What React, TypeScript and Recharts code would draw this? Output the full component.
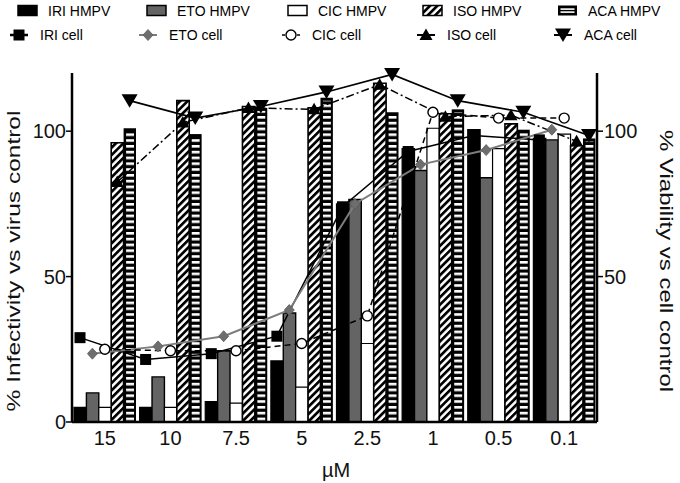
import React from 'react';
import { ComposedChart, Bar, Line, XAxis, YAxis, Legend } from 'recharts';

const doses = ['15', '10', '7.5', '5', '2.5', '1', '0.5', '0.1'];

const iriHmpv = [5, 5, 7, 21, 75, 94, 100.5, 97.5];
const etoHmpv = [10, 15.5, 24.5, 37.5, 76.5, 86.5, 84, 97];
const cicHmpv = [5, 5, 6.5, 12, 27, 101, 94, 99];
const isoHmpv = [96, 110.5, 108.5, 108, 116.5, 106, 102.5, 95];
const acaHmpv = [101, 99, 108, 111.5, 106.5, 107.5, 100.5, 97.5];

const iriCell = [29, 21.5, 23.5, 29.5, 74, 93, 98.5, 97];
const etoCell = [23.5, 26, 29.5, 38.5, 75, 88.5, 93.5, 100.5];
const cicCell = [25, 24.5, 24.5, 27, 36.5, 106.5, 104.5, 104.5];
const isoCell = [82.5, 103, 108, 107.5, 116, 105, 105.5, 96.5];
const acaCell = [110.5, 104.5, 108.5, 113.5, 119.5, 110.5, 106.5, 98.5];

const leftTicks = [0, 50, 100];
const rightTicks = [50, 100];

const barLabels = ['IRI HMPV', 'ETO HMPV', 'CIC HMPV', 'ISO HMPV', 'ACA HMPV'];
const cellLabels = ['IRI cell', 'ETO cell', 'CIC cell', 'ISO cell', 'ACA cell'];

const W = 680;
const H = 483;
const BAR = 12.4;
const BAND = 525 / doses.length;
const SLOT = BAR / BAND;

const table = doses.map((d, i) => ({
  dose: d,
  iri: iriHmpv[i],
  eto: etoHmpv[i],
  cic: cicHmpv[i],
  iso: isoHmpv[i],
  aca: acaHmpv[i],
}));

const lineData = (vals: number[], slot: number) =>
  vals.map((v, i) => ({ pos: i + 0.5 + (slot - 2) * SLOT, v }));

const FONT = '"Liberation Sans", Arial, Helvetica, sans-serif';
const GRAY_BAR = '#646464';
const GRAY_LINE = '#7d7d7d';

const Square = (p: any) =>
  p.cx == null ? <g key={p.index} /> : (
    <rect key={p.index} x={p.cx - 5.5} y={p.cy - 5.5} width={11} height={11} fill="#000" />
  );
const Diamond = (p: any) =>
  p.cx == null ? <g key={p.index} /> : (
    <polygon
      key={p.index}
      points={`${p.cx},${p.cy - 5.5} ${p.cx + 5},${p.cy} ${p.cx},${p.cy + 5.5} ${p.cx - 5},${p.cy}`}
      fill="#6e6e6e"
      stroke="#5a5a5a"
      strokeWidth={0.8}
    />
  );
const OpenCircle = (p: any) =>
  p.cx == null ? <g key={p.index} /> : (
    <circle key={p.index} cx={p.cx} cy={p.cy} r={5} fill="#fff" stroke="#000" strokeWidth={1.4} />
  );
const TriUp = (p: any) =>
  p.cx == null ? <g key={p.index} /> : (
    <polygon
      key={p.index}
      points={`${p.cx},${p.cy - 6.5} ${p.cx + 6.5},${p.cy + 5} ${p.cx - 6.5},${p.cy + 5}`}
      fill="#000"
    />
  );
const TriDown = (p: any) =>
  p.cx == null ? <g key={p.index} /> : (
    <polygon
      key={p.index}
      points={`${p.cx - 8},${p.cy - 6.5} ${p.cx + 8},${p.cy - 6.5} ${p.cx},${p.cy + 7}`}
      fill="#000"
    />
  );

const AcaShape = (p: any) => {
  const { x, y, width, height } = p;
  if (!height || height <= 0) return <g />;
  return (
    <g>
      <rect x={x} y={y} width={width} height={height} fill="#000" />
      <rect x={x + 2.5} y={y + 3} width={width - 4.5} height={height - 3} fill="url(#acaStripes)" />
    </g>
  );
};

const legendText = (x: number, y: number, s: string) => (
  <text x={x} y={y} fontSize={14} fontFamily={FONT} fill="#000">
    {s}
  </text>
);

const barTextX = [48, 177, 318, 453, 588];
const cellTextX = [40, 169, 312, 447, 584];

const LegendBox = () => {
  const r1 = 10.5;
  const r2 = 35;
  const icons = [
    (x: number) => <rect x={x} y={r1 - 5} width={19} height={10} fill="#000" stroke="#000" strokeWidth={1.5} />,
    (x: number) => <rect x={x} y={r1 - 5} width={19} height={10} fill={GRAY_BAR} stroke="#000" strokeWidth={1.5} />,
    (x: number) => <rect x={x} y={r1 - 5} width={19} height={10} fill="#fff" stroke="#000" strokeWidth={1.5} />,
    (x: number) => <rect x={x} y={r1 - 5} width={19} height={10} fill="url(#isoHatchL)" stroke="#000" strokeWidth={1.5} />,
    (x: number) => (
      <g>
        <rect x={x} y={r1 - 5} width={19} height={10} fill="#000" />
        <rect x={x + 2.5} y={r1 - 2.2} width={14} height={1.6} fill="#fff" />
        <rect x={x + 2.5} y={r1 + 0.8} width={14} height={1.6} fill="#fff" />
      </g>
    ),
  ];
  const marks = [
    (c: number) => (
      <g>
        <line x1={c - 9} x2={c + 9} y1={r2} y2={r2} stroke="#000" strokeWidth={2.5} />
        {Square({ cx: c, cy: r2, index: 0 })}
      </g>
    ),
    (c: number) => (
      <g>
        <line x1={c - 9} x2={c + 9} y1={r2} y2={r2} stroke={GRAY_LINE} strokeWidth={2} />
        {Diamond({ cx: c, cy: r2, index: 0 })}
      </g>
    ),
    (c: number) => (
      <g>
        <line x1={c - 9} x2={c + 9} y1={r2} y2={r2} stroke="#000" strokeWidth={1.5} strokeDasharray="3 2" />
        {OpenCircle({ cx: c, cy: r2, index: 0 })}
      </g>
    ),
    (c: number) => (
      <g>
        <line x1={c - 9} x2={c + 9} y1={r2} y2={r2} stroke="#000" strokeWidth={2} />
        {TriUp({ cx: c, cy: r2, index: 0 })}
      </g>
    ),
    (c: number) => (
      <g>
        <line x1={c - 9} x2={c + 9} y1={r2} y2={r2} stroke="#000" strokeWidth={2} />
        {TriDown({ cx: c, cy: r2, index: 0 })}
      </g>
    ),
  ];
  return (
    <svg width={W} height={73} style={{ display: 'block' }}>
      <defs>
        <pattern id="isoHatchL" patternUnits="userSpaceOnUse" width={5.2} height={5.2} patternTransform="rotate(45)">
          <rect width={5.2} height={5.2} fill="#fff" />
          <rect width={2.7} height={5.2} fill="#000" />
        </pattern>
      </defs>
      {barLabels.map((s, i) => (
        <g key={s}>
          {icons[i](barTextX[i] - 30)}
          {legendText(barTextX[i], r1 + 5, s)}
        </g>
      ))}
      {cellLabels.map((s, i) => (
        <g key={s}>
          {marks[i](cellTextX[i] - 21)}
          {legendText(cellTextX[i], r2 + 5, s)}
        </g>
      ))}
    </svg>
  );
};

const leftTitle = () => (
  <text
    x={0}
    y={0}
    transform="translate(20,261) rotate(-90) scale(1,0.78)"
    textAnchor="middle"
    fontSize={24.5}
    fontFamily={FONT}
    fill="#111"
  >
    % Infectivity vs virus control
  </text>
);

const rightTitle = () => (
  <text
    x={0}
    y={0}
    transform="translate(660,261) rotate(90) scale(1,0.78)"
    textAnchor="middle"
    fontSize={24}
    fontFamily={FONT}
    fill="#111"
  >
    % Viability vs cell control
  </text>
);

const xTitle = () => (
  <text x={336} y={477} textAnchor="middle" fontSize={20} fontFamily={FONT} fill="#111">
    µM
  </text>
);

const tickStyle = { fontSize: 20, fontFamily: FONT, fill: '#111' };

export default function App() {
  return (
    <div style={{ position: 'absolute', left: 0, top: 0, width: W, height: H, background: '#fff' }}>
      <ComposedChart
        width={W}
        height={H}
        data={table}
        margin={{ top: 0, right: 0, bottom: 0, left: 0 }}
        barGap={0}
        barSize={BAR}
      >
        <defs>
          <pattern id="isoHatch" patternUnits="userSpaceOnUse" width={5.2} height={5.2} patternTransform="rotate(45)">
            <rect width={5.2} height={5.2} fill="#fff" />
            <rect width={2.7} height={5.2} fill="#000" />
          </pattern>
          <pattern id="acaStripes" patternUnits="userSpaceOnUse" width={20} height={5.8}>
            <rect width={20} height={2.6} fill="#fff" />
          </pattern>
        </defs>
        <Legend
          verticalAlign="top"
          content={LegendBox}
          wrapperStyle={{ position: 'absolute', top: 0, left: 0, width: W, height: 73 }}
        />
        <XAxis
          xAxisId="cat"
          dataKey="dose"
          height={61}
          axisLine={{ stroke: '#000', strokeWidth: 2.5 }}
          tickLine={false}
          tickSize={6}
          tickMargin={3}
          tick={tickStyle}
          interval={0}
          label={xTitle}
        />
        <XAxis xAxisId="pos" type="number" dataKey="pos" domain={[0, doses.length]} hide allowDataOverflow />
        <YAxis
          yAxisId="left"
          width={72}
          domain={[0, 120]}
          ticks={leftTicks}
          interval={0}
          axisLine={{ stroke: '#000', strokeWidth: 2.5 }}
          tickLine={{ stroke: '#000', strokeWidth: 1.5 }}
          tickSize={6}
          tickMargin={0}
          tick={tickStyle}
          label={leftTitle}
        />
        <YAxis
          yAxisId="right"
          orientation="right"
          width={83}
          domain={[0, 120]}
          ticks={rightTicks}
          interval={0}
          axisLine={{ stroke: '#000', strokeWidth: 2.5 }}
          tickLine={{ stroke: '#000', strokeWidth: 1.5 }}
          tickSize={6}
          tickMargin={1}
          tick={tickStyle}
          label={rightTitle}
        />
        <Bar xAxisId="cat" yAxisId="left" dataKey="iri" name="IRI HMPV" fill="#000" stroke="#000" strokeWidth={1.2} isAnimationActive={false} />
        <Bar xAxisId="cat" yAxisId="left" dataKey="eto" name="ETO HMPV" fill={GRAY_BAR} stroke="#000" strokeWidth={1.4} isAnimationActive={false} />
        <Bar xAxisId="cat" yAxisId="left" dataKey="cic" name="CIC HMPV" fill="#fff" stroke="#000" strokeWidth={1.2} isAnimationActive={false} />
        <Bar xAxisId="cat" yAxisId="left" dataKey="iso" name="ISO HMPV" fill="url(#isoHatch)" stroke="#000" strokeWidth={1.6} isAnimationActive={false} />
        <Bar xAxisId="cat" yAxisId="left" dataKey="aca" name="ACA HMPV" shape={AcaShape} isAnimationActive={false} />

        <Line xAxisId="pos" yAxisId="right" data={lineData(iriCell, 0)} dataKey="v" name="IRI cell" stroke="#000" strokeWidth={1.5} dot={Square} activeDot={false} isAnimationActive={false} />
        <Line xAxisId="pos" yAxisId="right" data={lineData(etoCell, 1)} dataKey="v" name="ETO cell" stroke={GRAY_LINE} strokeWidth={2} dot={Diamond} activeDot={false} isAnimationActive={false} />
        <Line xAxisId="pos" yAxisId="right" data={lineData(cicCell, 2)} dataKey="v" name="CIC cell" stroke="#000" strokeWidth={1.5} strokeDasharray="6 4" dot={OpenCircle} activeDot={false} isAnimationActive={false} />
        <Line xAxisId="pos" yAxisId="right" data={lineData(isoCell, 3)} dataKey="v" name="ISO cell" stroke="#000" strokeWidth={1.5} strokeDasharray="8 3 2 3" dot={TriUp} activeDot={false} isAnimationActive={false} />
        <Line xAxisId="pos" yAxisId="right" data={lineData(acaCell, 4)} dataKey="v" name="ACA cell" stroke="#000" strokeWidth={1.6} dot={TriDown} activeDot={false} isAnimationActive={false} />
      </ComposedChart>
    </div>
  );
}
